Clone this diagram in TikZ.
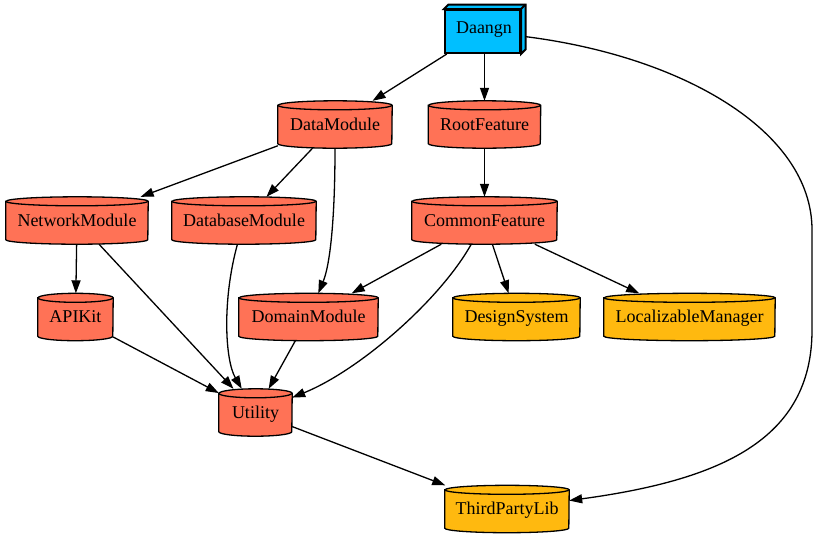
\documentclass[tikz,border=0pt]{standalone}
\usepackage{fontspec}
\setmainfont{Liberation Serif}
\usetikzlibrary{arrows.meta,backgrounds,calc}
\definecolor{nodecoral}{HTML}{FF7256}
\definecolor{nodegold}{HTML}{FFB90F}
\definecolor{nodesky}{HTML}{00BFFF}
\tikzset{
  cylframe/.style={inner sep=0pt, minimum height=47pt, draw=none},
  cylline/.style={line width=1.3pt},
  lbl/.style={anchor=base, inner sep=0pt, font=\fontsize{18}{21}\selectfont},
  edge/.style={line width=1.3pt, -{Triangle[length=13pt,width=9pt]}},
}
\newcommand\cylnode[6]{%
  \node[cylframe, minimum width=#4pt] (#1) at (#2,#3) {};
  \filldraw[cylline, fill=#6] ([yshift=-4.5pt]#1.north west) -- ([yshift=4.5pt]#1.south west)
    arc[start angle=180, end angle=360, x radius=#4pt/2, y radius=4.5pt]
    -- ([yshift=-4.5pt]#1.north east)
    arc[start angle=0, end angle=180, x radius=#4pt/2, y radius=4.5pt] -- cycle;
  \draw[cylline] ([yshift=-4.5pt]#1.north west)
    arc[start angle=180, end angle=360, x radius=#4pt/2, y radius=4.5pt];
  \node[lbl] (#1-l) at ([yshift=-5.5pt]#1.center) {#5};
}
\begin{document}
\begin{tikzpicture}[x=1pt, y=-1pt]
\useasboundingbox (0,0) rectangle (818,539);
% Daangn box3d
\node[draw, line width=2pt, fill=nodesky, minimum width=75pt, minimum height=43pt, inner sep=0pt] (Daangn) at (482.5,31.5) {};
\filldraw[line width=2pt, fill=nodesky, line join=miter]
  (Daangn.north west) -- ++(4.5pt,4.5pt) -- ([shift={(4.5pt,4.5pt)}]Daangn.north east)
  -- ([shift={(4.5pt,4.5pt)}]Daangn.south east) -- (Daangn.south east) -- (Daangn.north east) -- cycle;
\draw[line width=2pt] (Daangn.north east) -- ++(4.5pt,4.5pt);
\node[lbl] (Daangn-l) at (484,33.5) {Daangn};
% cylinders
\cylnode{DataModule}{335}{124.5}{114}{DataModule}{nodecoral}
\cylnode{RootFeature}{484.5}{124.5}{112}{RootFeature}{nodecoral}
\cylnode{NetworkModule}{77}{220.5}{142}{NetworkModule}{nodecoral}
\cylnode{DatabaseModule}{244}{220.5}{144}{DatabaseModule}{nodecoral}
\cylnode{CommonFeature}{484.5}{220.5}{145}{CommonFeature}{nodecoral}
\cylnode{APIKit}{75.5}{317}{75}{APIKit}{nodecoral}
\cylnode{DomainModule}{308.5}{317}{139}{DomainModule}{nodecoral}
\cylnode{DesignSystem}{516.5}{317}{127}{DesignSystem}{nodegold}
\cylnode{LocalizableManager}{689.5}{317}{171}{LocalizableManager}{nodegold}
\cylnode{Utility}{255.5}{412.5}{73}{Utility}{nodecoral}
\cylnode{ThirdPartyLib}{507}{509}{124}{ThirdPartyLib}{nodegold}
% edges
\begin{scope}[on background layer]
\draw[edge] (Daangn) -- (DataModule);
\draw[edge] (Daangn.south -| RootFeature.north) -- (RootFeature);
\draw[edge] (Daangn) .. controls (680,55) and (812,130) .. (812,230) -- (812,330)
  .. controls (812,440) and (720,480) .. (ThirdPartyLib);
\draw[edge] (DataModule) -- (NetworkModule);
\draw[edge] (DataModule) -- (DatabaseModule);
\draw[edge] (DataModule) .. controls (335,220) and (330,265) .. (DomainModule);
\draw[edge] (RootFeature) -- (CommonFeature);
\draw[edge] (NetworkModule) -- (APIKit);
\draw[edge] (NetworkModule) -- (Utility);
\draw[edge] (DatabaseModule) .. controls (222,300) and (225,360) .. (Utility);
\draw[edge] (CommonFeature) -- (DomainModule);
\draw[edge] (CommonFeature) .. controls (440,300) and (360,370) .. (Utility);
\draw[edge] (CommonFeature) -- (DesignSystem);
\draw[edge] (CommonFeature) -- (LocalizableManager);
\draw[edge] (APIKit) -- (Utility);
\draw[edge] (DomainModule) -- (Utility);
\draw[edge] (Utility) -- (ThirdPartyLib);
\end{scope}
\end{tikzpicture}
\end{document}
